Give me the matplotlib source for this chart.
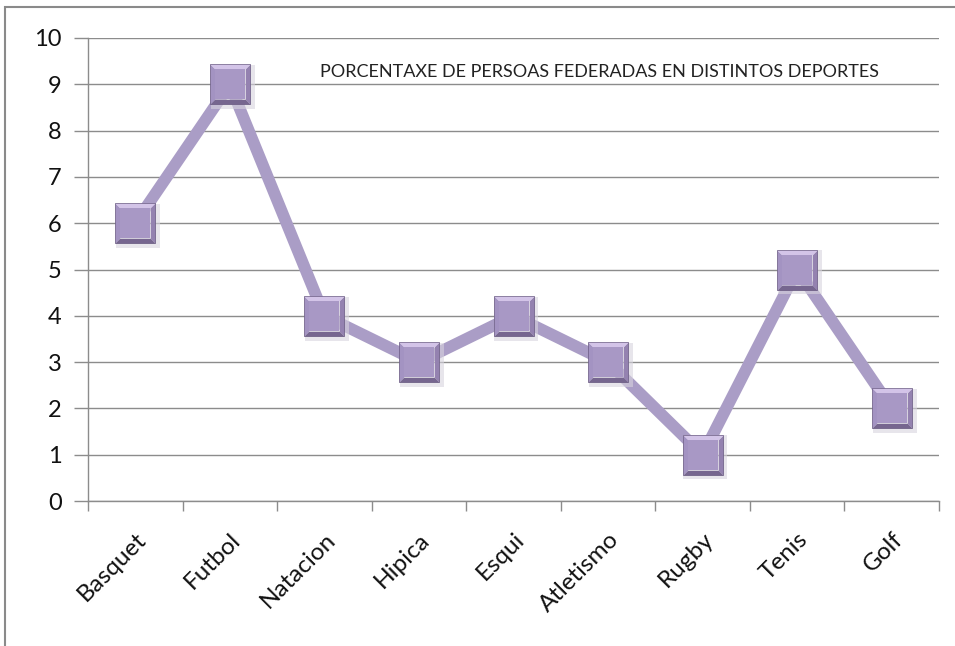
import matplotlib
matplotlib.use('agg')
from matplotlib import pyplot as plt
from matplotlib.path import Path
from matplotlib.patches import Rectangle

sports = ['Basquet', 'Futbol', 'Natacion', 'Hipica', 'Esqui', 'Atletismo', 'Rugby', 'Tenis', 'Golf']
values = [6, 9, 4, 3, 4, 3, 1, 5, 2]
yticks = list(range(0, 11))
title = 'PORCENTAXE DE PERSOAS FEDERADAS EN DISTINTOS DEPORTES'

plt.rcParams['font.family'] = ['Lato', 'DejaVu Sans']

fig = plt.figure(figsize=(9.55, 6.46), dpi=100)
fig.patches.append(Rectangle((5 / 955, -0.1), 1.2, 1 - 7 / 646 + 0.1, transform=fig.transFigure,
                             fill=False, edgecolor='#8a8a8a', linewidth=1.5))
ax = fig.add_axes([88 / 955, 1 - 501 / 646, 851 / 955, 463 / 646])

x = list(range(len(sports)))
grid_c = '#8c8c8c'

ax.plot(x, values, color='#aa9dc6', linewidth=8.5, solid_joinstyle='miter', zorder=3)

# bevelled square markers built from facets
ms = 29
k = 0.76
top = Path([(-1, 1), (1, 1), (k, k), (-k, k), (-1, 1)])
bottom = Path([(-1, -1), (1, -1), (k, -k), (-k, -k), (-1, -1)])
left = Path([(-1, -1), (-1, 1), (-k, k), (-k, -k), (-1, -1)])
right = Path([(1, -1), (1, 1), (k, k), (k, -k), (1, -1)])
ax.plot([i + 0.03 for i in x], [v - 0.06 for v in values], ls='none', marker='s', ms=ms + 2,
        color='#d8d4de', alpha=0.6, mew=0, zorder=3.5)
for mk, c in [(left, '#a393c2'), (right, '#9482b0'), (top, '#d3c4e8'), (bottom, '#76668f')]:
    ax.plot(x, values, ls='none', marker=mk, ms=ms, color=c, mew=0, zorder=4)
ax.plot(x, values, ls='none', marker='s', ms=ms * k, color='#a898c5', mew=0, zorder=4)
ax.plot(x, values, ls='none', marker='s', ms=ms, mfc='none', mec='#6a5b82', mew=0.5, zorder=4)

ax.set_xlim(-0.5, len(sports) - 0.5)
ax.set_ylim(0, 10)
ax.set_yticks(yticks)
ax.set_yticklabels([str(t) for t in yticks], fontsize=17, color='#111111')
ax.set_xticks([i - 0.5 for i in range(len(sports) + 1)])
ax.set_xticklabels([])
ax.set_xticks(x, minor=True)
ax.set_xticklabels(sports, minor=True, rotation=45, ha='right', va='top',
                   rotation_mode='anchor', fontsize=17.5, color='#111111')
ax.tick_params(axis='x', which='minor', length=0, pad=20)
ax.tick_params(axis='x', which='major', length=7, color=grid_c, width=1)
ax.tick_params(axis='y', length=10, color=grid_c, width=1, pad=9)

ax.grid(axis='y', color=grid_c, linewidth=1)
ax.set_axisbelow(True)
for s in ['top', 'right']:
    ax.spines[s].set_visible(False)
for s in ['left', 'bottom']:
    ax.spines[s].set_color(grid_c)
    ax.spines[s].set_linewidth(1)

ax.text(0.6016, 0.927, title, transform=ax.transAxes, ha='center', va='center',
        fontsize=13, color='#222222')

fig.savefig('out.png', dpi=100)
